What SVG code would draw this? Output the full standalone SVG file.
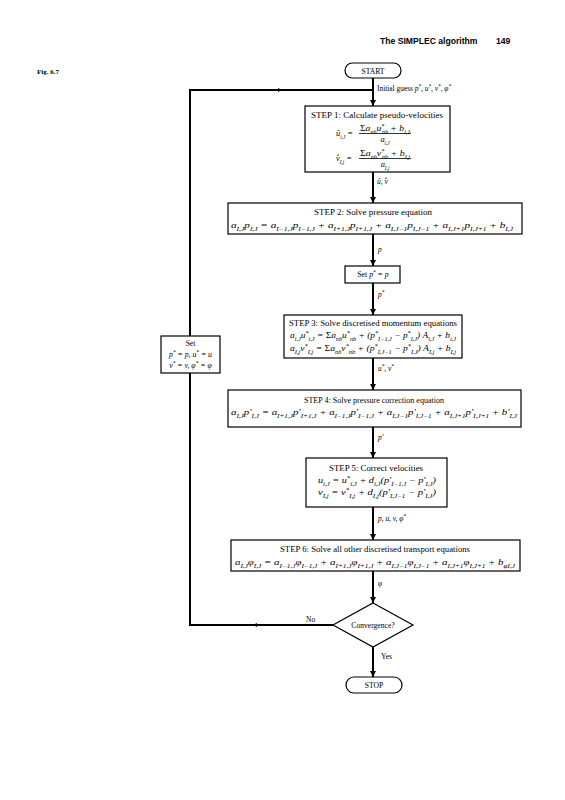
<svg xmlns="http://www.w3.org/2000/svg" width="565" height="800" viewBox="0 0 565 800">
<style>
.box{fill:#fff;stroke:#000;stroke-width:1.2}
.ln{fill:none;stroke:#000;stroke-width:2}
.thin{fill:none;stroke:#000;stroke-width:0.8}
text{font-family:"Liberation Serif","Times New Roman",serif;fill:#000}
.t{font-size:7.6px}
.eq{font-size:7.8px;font-style:italic}
.fr{font-size:8.4px;font-style:italic}
.lb{font-size:7.4px;font-style:italic}
.up{font-style:normal}
.s{font-size:5.2px;baseline-shift:sub}
.p{font-size:5.2px;baseline-shift:super}
.hd{font-family:"Liberation Sans",Arial,sans-serif;font-weight:bold;font-size:8.6px}
</style>
<defs>
<marker id="ah" viewBox="0 0 10 10" refX="10" refY="5" markerWidth="4" markerHeight="4" orient="auto" markerUnits="userSpaceOnUse">
<path d="M0,0 L10,5 L0,10 z" fill="#000"/>
</marker>
<marker id="ahb" viewBox="0 0 10 10" refX="10" refY="5" markerWidth="7" markerHeight="6" orient="auto" markerUnits="userSpaceOnUse">
<path d="M0,0 L10,5 L0,10 z" fill="#000"/>
</marker>
</defs>

<g id="header">
<text class="hd" x="380" y="44">The SIMPLEC algorithm</text>
<text class="hd" x="496" y="44" font-size="9.5">149</text>
<text x="37" y="74" font-size="7px" font-weight="bold">Fig. 6.7</text>
</g>

<g id="connectors">
<line class="ln" x1="373" y1="78" x2="373" y2="106" marker-end="url(#ahb)"/>
<line class="ln" x1="373" y1="172" x2="373" y2="203" marker-end="url(#ahb)"/>
<line class="ln" x1="373" y1="234" x2="373" y2="266" marker-end="url(#ahb)"/>
<line class="ln" x1="373" y1="283" x2="373" y2="315" marker-end="url(#ahb)"/>
<line class="ln" x1="373" y1="358" x2="373" y2="390" marker-end="url(#ahb)"/>
<line class="ln" x1="373" y1="427" x2="373" y2="458" marker-end="url(#ahb)"/>
<line class="ln" x1="373" y1="507" x2="373" y2="540" marker-end="url(#ahb)"/>
<line class="ln" x1="373" y1="571" x2="373" y2="603" marker-end="url(#ahb)"/>
<line class="ln" x1="373" y1="647" x2="373" y2="677" marker-end="url(#ahb)"/>
<polyline class="ln" points="333,625 190,625 190,90 373,90"/>
<line class="ln" x1="200" y1="90" x2="282" y2="90" marker-end="url(#ah)"/>
<line class="ln" x1="330" y1="625" x2="253" y2="625" marker-end="url(#ah)"/>
<text class="lb" x="377" y="91">
<tspan class="up">Initial guess </tspan>p<tspan class="p">*</tspan>, u<tspan class="p">*</tspan>, v<tspan class="p">*</tspan>, φ<tspan class="p">*</tspan></text>
<text class="lb" x="377" y="184">û, v̂</text>
<text class="lb" x="378" y="252">p</text>
<text class="lb" x="378" y="297">p<tspan class="p">*</tspan></text>
<text class="lb" x="378" y="371">u<tspan class="p">*</tspan>, v<tspan class="p">*</tspan></text>
<text class="lb" x="378" y="440">p′</text>
<text class="lb" x="378" y="521">p, u, v, φ<tspan class="p">*</tspan></text>
<text class="lb" x="378" y="586">φ</text>
<text class="t" x="306" y="622">No</text>
<text class="t" x="381" y="659">Yes</text>
</g>

<g id="start">
<rect class="box" x="345" y="63" width="56" height="15" rx="7.5"/>
<text class="t" x="373" y="73.5" text-anchor="middle">START</text>
</g>

<g id="step1">
<rect class="box" x="305" y="106" width="145" height="66"/>
<text class="t" x="377" y="118" text-anchor="middle" textLength="132" lengthAdjust="spacingAndGlyphs">STEP 1: Calculate pseudo-velocities</text>
<text class="fr" x="336" y="136">û<tspan class="s">i,J</tspan> =</text>
<text class="fr" x="385" y="131" text-anchor="middle" textLength="50" lengthAdjust="spacingAndGlyphs"><tspan class="up">Σ</tspan>a<tspan class="s">nb</tspan>u<tspan class="p">*</tspan><tspan class="s" dx="-2">nb</tspan> + b<tspan class="s">i,J</tspan></text>
<line class="thin" x1="359" y1="133.5" x2="411" y2="133.5"/>
<text class="fr" x="385" y="141.5" text-anchor="middle">a<tspan class="s">i,J</tspan></text>
<text class="fr" x="336" y="161">v̂<tspan class="s">I,j</tspan> =</text>
<text class="fr" x="385" y="156" text-anchor="middle" textLength="50" lengthAdjust="spacingAndGlyphs"><tspan class="up">Σ</tspan>a<tspan class="s">nb</tspan>v<tspan class="p">*</tspan><tspan class="s" dx="-2">nb</tspan> + b<tspan class="s">I,j</tspan></text>
<line class="thin" x1="359" y1="158.5" x2="411" y2="158.5"/>
<text class="fr" x="385" y="166.5" text-anchor="middle">a<tspan class="s">I,j</tspan></text>
</g>

<g id="step2">
<rect class="box" x="228" y="203" width="294" height="31"/>
<text class="t" x="373" y="215" text-anchor="middle" textLength="118" lengthAdjust="spacingAndGlyphs">STEP 2: Solve pressure equation</text>
<text class="eq" x="372" y="228" text-anchor="middle" textLength="282" lengthAdjust="spacingAndGlyphs">a<tspan class="s">I,J</tspan>p<tspan class="s">I,J</tspan> = a<tspan class="s">I−1,J</tspan>p<tspan class="s">I−1,J</tspan> + a<tspan class="s">I+1,J</tspan>p<tspan class="s">I+1,J</tspan> + a<tspan class="s">I,J−1</tspan>p<tspan class="s">I,J−1</tspan> + a<tspan class="s">I,J+1</tspan>p<tspan class="s">I,J+1</tspan> + b<tspan class="s">I,J</tspan></text>
</g>

<g id="setp">
<rect class="box" x="345" y="266" width="55" height="17"/>
<text class="eq" x="373" y="277" text-anchor="middle"><tspan class="up">Set </tspan>p<tspan class="p">*</tspan> = p</text>
</g>

<g id="step3">
<rect class="box" x="284" y="315" width="178" height="43"/>
<text class="t" x="373" y="326" text-anchor="middle" textLength="168" lengthAdjust="spacingAndGlyphs">STEP 3: Solve discretised momentum equations</text>
<text class="eq" x="373" y="338" text-anchor="middle" textLength="166" lengthAdjust="spacingAndGlyphs">a<tspan class="s">i,J</tspan>u<tspan class="p">*</tspan><tspan class="s">i,J</tspan> = <tspan class="up">Σ</tspan>a<tspan class="s">nb</tspan>u<tspan class="p">*</tspan><tspan class="s">nb</tspan> + (p<tspan class="p">*</tspan><tspan class="s">I−1,J</tspan> − p<tspan class="p">*</tspan><tspan class="s">I,J</tspan>) A<tspan class="s">i,J</tspan> + b<tspan class="s">i,J</tspan></text>
<text class="eq" x="373" y="351" text-anchor="middle" textLength="166" lengthAdjust="spacingAndGlyphs">a<tspan class="s">I,j</tspan>v<tspan class="p">*</tspan><tspan class="s">I,j</tspan> = <tspan class="up">Σ</tspan>a<tspan class="s">nb</tspan>v<tspan class="p">*</tspan><tspan class="s">nb</tspan> + (p<tspan class="p">*</tspan><tspan class="s">I,J−1</tspan> − p<tspan class="p">*</tspan><tspan class="s">I,J</tspan>) A<tspan class="s">I,j</tspan> + b<tspan class="s">I,j</tspan></text>
</g>

<g id="setloop">
<rect class="box" x="161" y="336" width="59" height="37"/>
<text class="t" x="190.5" y="346" text-anchor="middle">Set</text>
<text class="eq" x="190.5" y="357" text-anchor="middle">p<tspan class="p">*</tspan> = p, u<tspan class="p">*</tspan> = u</text>
<text class="eq" x="190.5" y="368" text-anchor="middle">v<tspan class="p">*</tspan> = v, φ<tspan class="p">*</tspan> = φ</text>
</g>

<g id="step4">
<rect class="box" x="228" y="390" width="293" height="37"/>
<text class="t" x="374" y="403" text-anchor="middle" textLength="140" lengthAdjust="spacingAndGlyphs">STEP 4: Solve pressure correction equation</text>
<text class="eq" x="374" y="415" text-anchor="middle" textLength="286" lengthAdjust="spacingAndGlyphs">a<tspan class="s">I,J</tspan>p′<tspan class="s">I,J</tspan> = a<tspan class="s">I+1,J</tspan>p′<tspan class="s">I+1,J</tspan> + a<tspan class="s">I−1,J</tspan>p′<tspan class="s">I−1,J</tspan> + a<tspan class="s">I,J−1</tspan>p′<tspan class="s">I,J−1</tspan> + a<tspan class="s">I,J+1</tspan>p′<tspan class="s">I,J+1</tspan> + b′<tspan class="s">I,J</tspan></text>
</g>

<g id="step5">
<rect class="box" x="306" y="458" width="141" height="49"/>
<text class="t" x="376" y="471" text-anchor="middle" textLength="94" lengthAdjust="spacingAndGlyphs">STEP 5: Correct velocities</text>
<text class="eq" x="377" y="483" text-anchor="middle" textLength="118" lengthAdjust="spacingAndGlyphs">u<tspan class="s">i,J</tspan> = u<tspan class="p">*</tspan><tspan class="s">i,J</tspan> + d<tspan class="s">i,J</tspan>(p′<tspan class="s">I−1,J</tspan> − p′<tspan class="s">I,J</tspan>)</text>
<text class="eq" x="377" y="495" text-anchor="middle" textLength="118" lengthAdjust="spacingAndGlyphs">v<tspan class="s">I,j</tspan> = v<tspan class="p">*</tspan><tspan class="s">I,j</tspan> + d<tspan class="s">I,j</tspan>(p′<tspan class="s">I,J−1</tspan> − p′<tspan class="s">I,J</tspan>)</text>
</g>

<g id="step6">
<rect class="box" x="231" y="540" width="289" height="31"/>
<text class="t" x="375" y="552" text-anchor="middle" textLength="190" lengthAdjust="spacingAndGlyphs">STEP 6: Solve all other discretised transport equations</text>
<text class="eq" x="375" y="565" text-anchor="middle" textLength="280" lengthAdjust="spacingAndGlyphs">a<tspan class="s">I,J</tspan>φ<tspan class="s">I,J</tspan> = a<tspan class="s">I−1,J</tspan>φ<tspan class="s">I−1,J</tspan> + a<tspan class="s">I+1,J</tspan>φ<tspan class="s">I+1,J</tspan> + a<tspan class="s">I,J−1</tspan>φ<tspan class="s">I,J−1</tspan> + a<tspan class="s">I,J+1</tspan>φ<tspan class="s">I,J+1</tspan> + b<tspan class="s">φI,J</tspan></text>
</g>

<g id="convergence">
<polygon class="box" points="373,603 413,625 373,647 333,625"/>
<text class="t" x="373" y="628" text-anchor="middle">Convergence?</text>
</g>

<g id="stop">
<rect class="box" x="346" y="677" width="56" height="16" rx="8"/>
<text class="t" x="374" y="688" text-anchor="middle">STOP</text>
</g>
</svg>
